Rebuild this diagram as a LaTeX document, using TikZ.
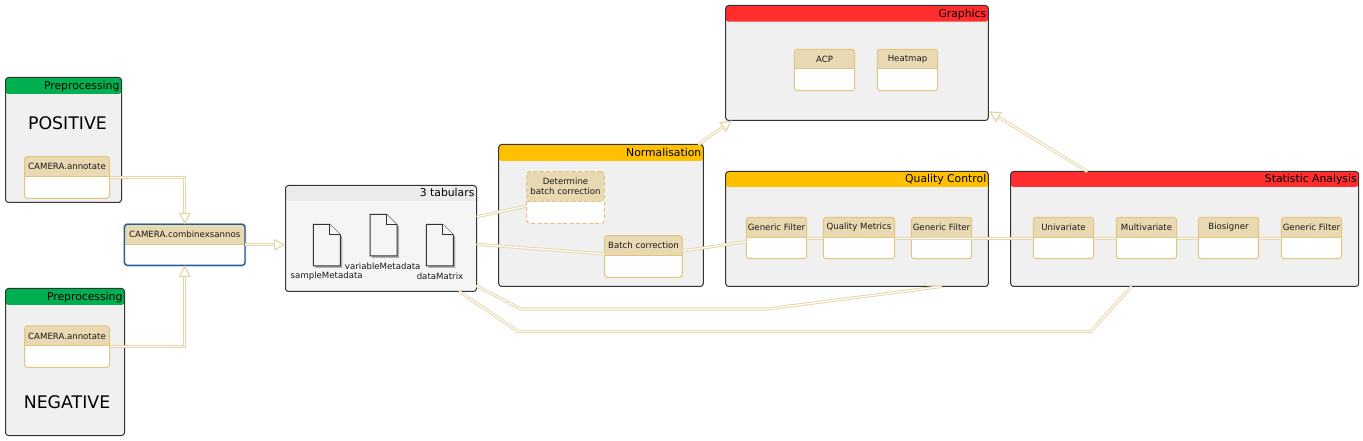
\documentclass[tikz,border=0pt]{standalone}
\usepackage{fontspec}
\setmainfont{DejaVu Sans}
\usetikzlibrary{arrows.meta,calc}
\definecolor{headtan}{HTML}{E9D9B2}
\definecolor{edgetan}{HTML}{E2C57C}
\definecolor{linktan}{HTML}{E6D5A8}
\definecolor{pkggrey}{HTML}{F0F0F0}
\definecolor{pkgline}{HTML}{333333}
\definecolor{hgreen}{HTML}{00B050}
\definecolor{hamber}{HTML}{FFC000}
\definecolor{hred}{HTML}{FF2D2D}
\definecolor{hgrey}{HTML}{EBEBEB}
\definecolor{tabgrey}{HTML}{F5F5F5}
\definecolor{blueline}{HTML}{2A5C8E}
\definecolor{bluehalo}{HTML}{C5D6E6}
\tikzset{
  pkgbox/.style={draw=pkgline,line width=0.75pt,rounded corners=2.2pt,inner sep=0pt,outer sep=0pt,fill=pkggrey},
  actbox/.style={draw=edgetan,line width=0.75pt,rounded corners=2.2pt,inner sep=0pt,outer sep=0pt,fill=white},
  dashbox/.style={actbox,dash pattern=on 3pt off 1.8pt},
  bluebox/.style={actbox,draw=blueline,line width=1pt,preaction={draw=bluehalo,line width=2.2pt}},
  titletext/.style={inner sep=0pt,font=\fontsize{8.1}{10}\selectfont,text=black},
  acttext/.style={inner sep=0pt,font=\fontsize{6.45}{7.6}\selectfont,text=black!90,align=center},
  bigtext/.style={inner sep=0pt,font=\fontsize{13}{16}\selectfont},
  filetext/.style={inner sep=0pt,font=\fontsize{6.45}{7.6}\selectfont,text=black!90},
  link/.style={draw=linktan,line width=0.7pt,double=white,double distance=0.9pt},
  tiplink/.style={link,-{Triangle[open,fill=white,length=8.6pt,width=8.8pt,line width=0.9pt,color=linktan]}},
  fileicon/.style={draw=pkgline,line width=0.75pt,fill=tabgrey,line join=miter},
}
% name, x1, y1, x2, y2, header bottom, header colour, title, body style
\newcommand\pkgnode[9]{%
  \pgfmathsetmacro\myW{(#4-#2)*0.75}\pgfmathsetmacro\myH{(#5-#3)*0.75}\pgfmathsetmacro\myB{(#6-#3)*0.75}%
  \node[pkgbox,#9,minimum width=\myW pt,minimum height=\myH pt,
    path picture={\fill[#7] (path picture bounding box.north west) rectangle ([yshift=-\myB pt]path picture bounding box.north east);}]
    (#1) at ({(#2+#4)/2},{(#3+#5)/2}) {};
  \node[titletext,anchor=mid east] (#1-t) at (#4-1.8,{(#3+#6)/2}) {#8};}
% name, x1, y1, x2, y2, divider, text, box style
\newcommand\actnode[8]{%
  \pgfmathsetmacro\myW{(#4-#2)*0.75}\pgfmathsetmacro\myH{(#5-#3)*0.75}\pgfmathsetmacro\myB{(#6-#3)*0.75}%
  \node[#8,minimum width=\myW pt,minimum height=\myH pt,
    path picture={\fill[headtan] (path picture bounding box.north west) rectangle ([yshift=-\myB pt]path picture bounding box.north east);
      \draw[edgetan,line width=0.75pt] ([yshift=-\myB pt]path picture bounding box.north west) -- ([yshift=-\myB pt]path picture bounding box.north east);}]
    (#1) at ({(#2+#4)/2},{(#3+#5)/2}) {};
  \node[acttext] (#1-t) at ({(#2+#4)/2},{(#3+#6)/2}) {#7};}
% x, y (file icon)
\newcommand\filedoc[2]{%
  \fill[black!30] (#1+2,#2+2) -- ++(16.5,0) -- ++(10.5,10.5) -- ++(0,31) -- ++(-27,0) -- cycle;
  \draw[fileicon] (#1,#2) -- ++(16.5,0) -- ++(10.5,10.5) -- ++(0,31) -- ++(-27,0) -- cycle;
  \draw[fileicon,fill=tabgrey,line width=0.5pt] (#1+16.5,#2) -- ++(0,10.5) -- ++(10.5,0);}
\begin{document}
\begin{tikzpicture}[x=0.75pt,y=-0.75pt]
\useasboundingbox (0,0) rectangle (1363,441);
% packages
\pkgnode{pre1}{5.5}{77.5}{121.5}{202.5}{94}{hgreen}{Preprocessing}{}
\pkgnode{pre2}{5.5}{288.5}{124.5}{435.5}{305}{hgreen}{Preprocessing}{}
\pkgnode{tab}{285.5}{185.5}{476.5}{291.5}{201}{hgrey}{3 tabulars}{fill=tabgrey}
\pkgnode{norm}{498.7}{144.5}{703.3}{286.5}{161}{hamber}{Normalisation}{}
\pkgnode{qc}{725.7}{171.5}{988.3}{286.5}{187}{hamber}{Quality Control}{}
\pkgnode{stat}{1010.7}{171.5}{1358.7}{286.5}{187}{hred}{Statistic Analysis}{}
\pkgnode{gfx}{725.7}{5.5}{988.3}{120.5}{21.7}{hred}{Graphics}{}
\node[bigtext] (pos) at (67.5,123) {POSITIVE};
\node[bigtext] (neg) at (67,402) {NEGATIVE};
% activities
\actnode{ann1}{24.5}{156.7}{109.5}{198.3}{176.7}{CAMERA.annotate}{actbox}
\actnode{ann2}{24.5}{326}{109.5}{367.5}{346}{CAMERA.annotate}{actbox}
\actnode{comb}{124.5}{224.3}{245}{265.3}{244.3}{CAMERA.combinexsannos}{bluebox}
\actnode{det}{526.7}{171.7}{604.3}{223.3}{201.7}{Determine\\batch correction}{dashbox}
\actnode{batch}{604.7}{235.7}{682.3}{277.3}{255.7}{Batch correction}{actbox}
\actnode{gf1}{746.3}{217.3}{806.7}{258.7}{237.7}{Generic Filter}{actbox}
\actnode{qm}{823.3}{217.3}{894.7}{258.7}{237.7}{Quality Metrics}{actbox}
\actnode{gf2}{911.3}{217.3}{971.7}{258.7}{237.7}{Generic Filter}{actbox}
\actnode{uni}{1033.3}{217.3}{1093.7}{258.7}{237.7}{Univariate}{actbox}
\actnode{multi}{1116.3}{217.3}{1176.7}{258.7}{237.7}{Multivariate}{actbox}
\actnode{bio}{1198.3}{217.3}{1258.7}{258.7}{237.7}{Biosigner}{actbox}
\actnode{gf3}{1281.3}{217.3}{1341.7}{258.7}{237.7}{Generic Filter}{actbox}
\actnode{acp}{794.3}{49.3}{854.7}{90.7}{68.7}{ACP}{actbox}
\actnode{heat}{877.3}{49.3}{937.7}{90.7}{68.7}{Heatmap}{actbox}
% files
\filedoc{313.3}{224.3}
\filedoc{370}{214.3}
\filedoc{426.3}{224.3}
\node[filetext] (fs) at (326.7,276) {sampleMetadata};
\node[filetext] (fv) at (382.7,266) {variableMetadata};
\node[filetext] (fd) at (440,276) {dataMatrix};
% connector ends
\coordinate (tabA) at (476.7,216.7);
\coordinate (detA) at (526.7,206);
\coordinate (tabB) at (476.7,244.3);
\coordinate (batchB) at (604.7,254);
\coordinate (batchC) at (682.3,251);
\coordinate (gfC) at (746.3,241.7);
\coordinate (tabD) at (476.3,285.7);
\coordinate (bendD1) at (520.7,309);
\coordinate (bendD2) at (766.7,309);
\coordinate (qcD) at (941.7,286.5);
\coordinate (tabE) at (459,291.5);
\coordinate (bendE1) at (518.3,331.5);
\coordinate (bendE2) at (1090.7,331.5);
\coordinate (statE) at (1131.7,286.5);
\coordinate (normG) at (698.3,144.5);
\coordinate (gfxG) at (732,120.5);
\coordinate (statG) at (1087.3,171.5);
\coordinate (gfxH) at (989,111.3);
% connectors
\draw[tiplink] (ann1.east) -| (comb.north);
\draw[tiplink] (ann2.east) -| (comb.south);
\draw[tiplink] (comb.east) -- (tab.west |- comb.east);
\draw[link] (tabA) -- (detA);
\draw[link] (tabB) -- (batchB);
\draw[link] (batchC) -- (gfC);
\draw[link] (gf1.east |- 0,238.7) -- (qm.west |- 0,238.7);
\draw[link] (qm.east |- 0,238.7) -- (uni.west |- 0,238.7);
\draw[link] (uni.east |- 0,238.7) -- (multi.west |- 0,238.7);
\draw[link] (multi.east |- 0,238.7) -- (bio.west |- 0,238.7);
\draw[link] (bio.east |- 0,238.7) -- (gf3.west |- 0,238.7);
\draw[link] (tabD) -- (bendD1) -- (bendD2) -- (qcD);
\draw[link] (tabE) -- (bendE1) -- (bendE2) -- (statE);
\draw[tiplink] (normG) -- (gfxG);
\draw[tiplink] (statG) -- (gfxH);
\end{tikzpicture}
\end{document}
